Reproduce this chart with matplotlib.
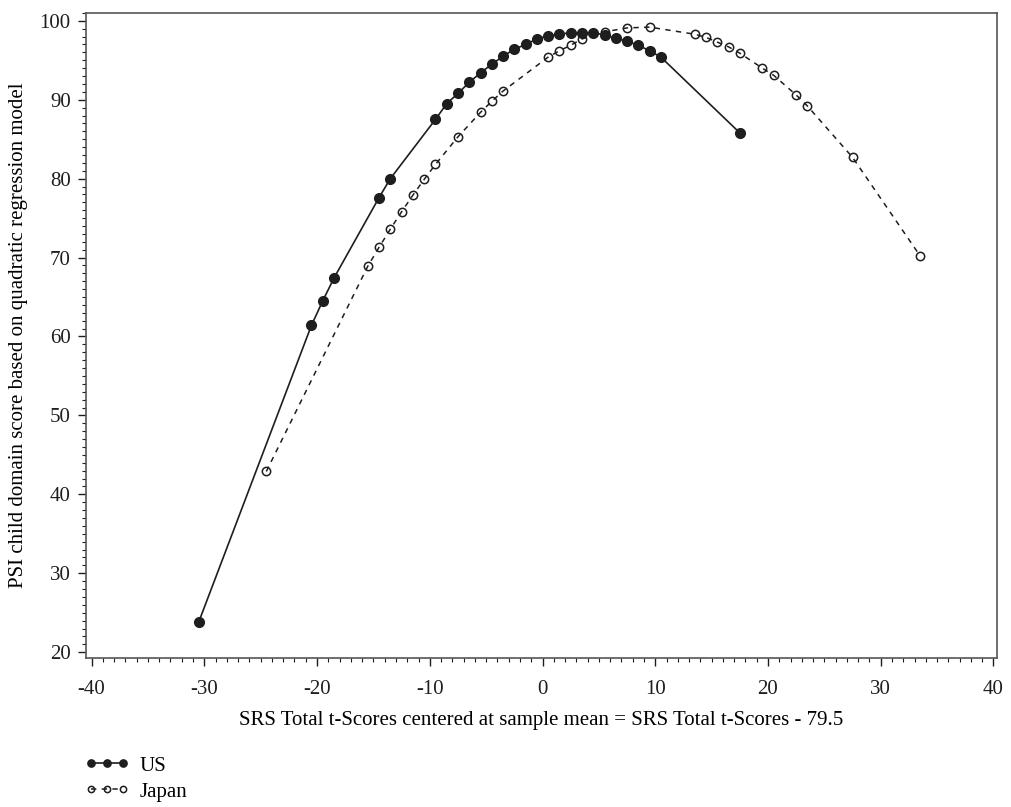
import numpy as np
import matplotlib.pyplot as plt
from matplotlib.ticker import MultipleLocator

plt.rcParams['font.family'] = ['Liberation Serif', 'DejaVu Serif']
plt.rcParams['axes.unicode_minus'] = False

# US: centred SRS score vs predicted PSI child domain score
us_x = [-30.5, -20.5, -19.5, -18.5, -14.5, -13.5, -9.5, -8.5, -7.5, -6.5,
        -5.5, -4.5, -3.5, -2.5, -1.5, -0.5, 0.5, 1.5, 2.5, 3.5,
        4.5, 5.5, 6.5, 7.5, 8.5, 9.5, 10.5, 17.5]
us_y = [23.8, 61.4, 64.5, 67.4, 77.6, 80.0, 87.5, 89.5, 90.8, 92.2,
        93.4, 94.5, 95.5, 96.4, 97.0, 97.7, 98.1, 98.3, 98.5, 98.5,
        98.5, 98.2, 97.8, 97.4, 96.9, 96.2, 95.4, 85.8]

# Japan
jp_x = [-24.5, -15.5, -14.5, -13.5, -12.5, -11.5, -10.5, -9.5, -7.5, -5.5,
        -4.5, -3.5, 0.5, 1.5, 2.5, 3.5, 5.5, 7.5, 9.5, 13.5,
        14.5, 15.5, 16.5, 17.5, 19.5, 20.5, 22.5, 23.5, 27.5, 33.5]
jp_y = [42.9, 68.9, 71.3, 73.6, 75.8, 77.9, 79.9, 81.8, 85.3, 88.4,
        89.8, 91.1, 95.4, 96.2, 96.9, 97.7, 98.6, 99.1, 99.2, 98.3,
        97.9, 97.3, 96.7, 95.9, 94.0, 93.1, 90.6, 89.2, 82.7, 70.2]

col = '#1e1e1e'
fig = plt.figure(figsize=(10.11, 8.07), dpi=100)
ax = fig.add_axes([0.085, 0.185, 0.901, 0.799])

ax.plot(us_x, us_y, '-', color=col, lw=1.2, marker='o', ms=7,
        mfc=col, mec=col, label='US')
ax.plot(jp_x, jp_y, color=col, lw=1.1, ls=(0, (3.5, 3.5)), marker='o', ms=6,
        mfc='none', mec=col, mew=1.1, label='Japan')

ax.set_xlim(-40.5, 40.3)
ax.set_ylim(19.3, 101)
ax.xaxis.set_major_locator(MultipleLocator(10))
ax.xaxis.set_minor_locator(MultipleLocator(1))
ax.yaxis.set_major_locator(MultipleLocator(10))
ax.yaxis.set_minor_locator(MultipleLocator(1))
ax.tick_params(which='major', direction='out', length=6, width=1, colors=col,
               labelsize=15)
ax.tick_params(axis='x', which='major', pad=10)
ax.tick_params(axis='y', which='major', pad=5)
ax.tick_params(which='minor', direction='out', length=3, width=0.8, colors=col)
for s in ax.spines.values():
    s.set_color('#555555')
    s.set_linewidth(1.2)

ax.set_xlabel('SRS Total t-Scores centered at sample mean = SRS Total t-Scores - 79.5',
              fontsize=15, labelpad=9)
ax.set_ylabel('PSI child domain score based on quadratic regression model',
              fontsize=15, labelpad=8)

fig.legend(loc='upper left', bbox_to_anchor=(0.074, 0.076), frameon=False,
           numpoints=3, fontsize=15, handlelength=2.1, handletextpad=0.5,
           labelspacing=0.3, borderpad=0, markerscale=0.75)

plt.savefig('out.png', dpi=100)
